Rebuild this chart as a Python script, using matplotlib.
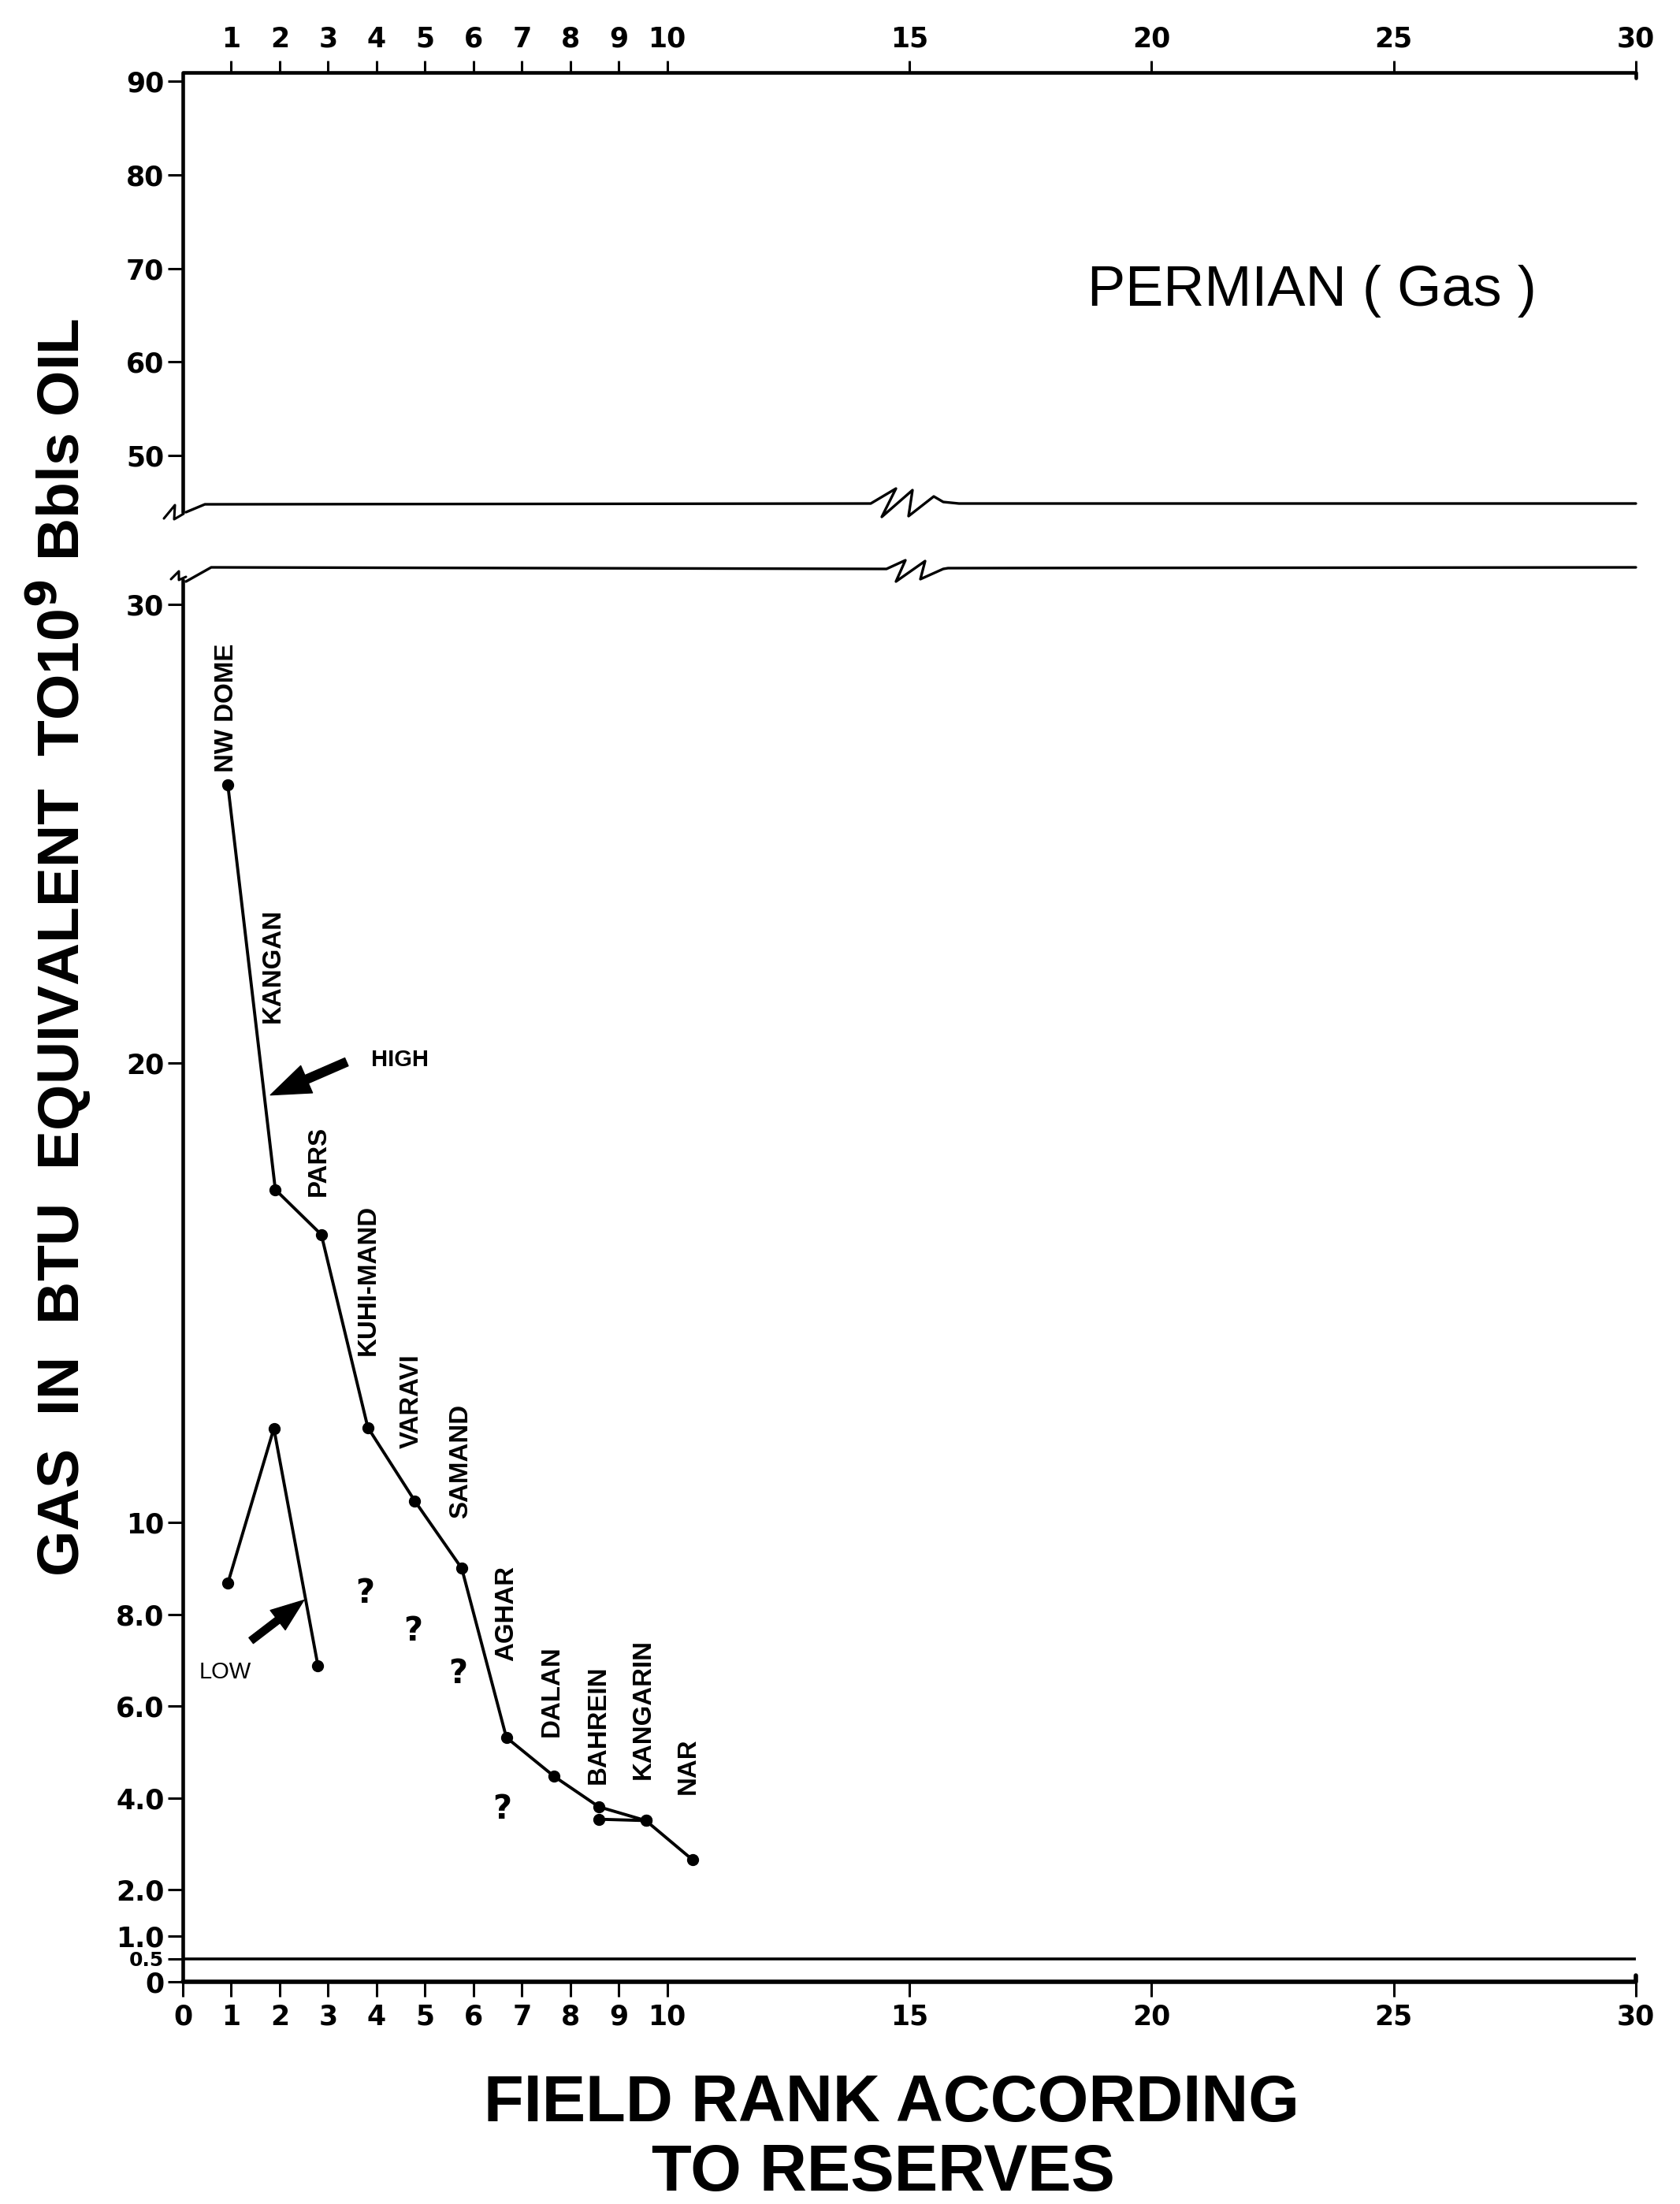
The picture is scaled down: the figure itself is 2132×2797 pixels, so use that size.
import matplotlib
matplotlib.use("Agg")
import matplotlib.pyplot as plt
from matplotlib import font_manager

# ---- data (rank, gas reserves in 10^9 bbl oil equiv.) ----
field_names = ["NW DOME", "KANGAN", "PARS", "KUHI-MAND", "VARAVI", "SAMAND",
               "AGHAR", "DALAN", "BAHREIN", "KANGARIN", "NAR"]
heavy_names = ["KANGARIN", "NAR"]
high_rank = [0.93, 1.91, 2.86, 3.82, 4.79, 5.76, 6.68, 7.67, 8.59, 9.56, 10.52]
high_gas = [26.06, 17.25, 16.27, 12.07, 10.47, 9.00, 5.32, 4.47, 3.81, 3.51, 2.66]
# second BAHREIN reading, joined to KANGARIN
spur_rank = [8.59, 9.56]
spur_gas = [3.54, 3.51]
low_rank = [0.93, 1.88, 2.79]
low_gas = [8.68, 12.05, 6.88]
query_rank = [3.77, 4.75, 5.69, 6.60]
query_gas = [8.46, 7.64, 6.71, 3.76]
floor_gas = 0.5

rank_ticks = [0, 1, 2, 3, 4, 5, 6, 7, 8, 9, 10, 15, 20, 25, 30]
upper_ticks = [50, 60, 70, 80, 90]
lower_ticks = [0, 0.5, 1, 2, 4, 6, 8, 10, 20, 30]
lower_tick_labels = ["0", "0.5", "1.0", "2.0", "4.0", "6.0", "8.0", "10", "20", "30"]

# label anchors (bottom of rotated text), in data units
label_x = [0.91, 1.86, 2.81, 3.82, 4.72, 5.74, 6.68, 7.61, 8.57, 9.50, 10.44]
label_y = [26.34, 20.89, 17.11, 13.64, 11.62, 10.09, 6.98, 5.33, 4.31, 4.41, 4.08]

# ---- layout (pixels of the 2132x2797 output, y from top) ----
W, H, DPI = 2132, 2797, 100
X0, X1 = 232, 2076
LO_TOP, LO_BOT, LO_YMAX = 720, 2515, 30.8
UP_TOP, UP_BOT, UP_YMIN, UP_YMAX = 92, 640, 44.8, 90.93

installed = {f.name for f in font_manager.fontManager.ttflist}
PLAIN = "Liberation Sans"
if "Liberation Sans Narrow" in installed:
    NARROW, squeeze = "Liberation Sans Narrow", 1.0
else:
    NARROW, squeeze = "Liberation Sans", 0.82


def frame(top, bottom):
    return [X0 / W, 1 - bottom / H, (X1 - X0) / W, (bottom - top) / H]


def ink(ax, pts, lw):
    xy = ax.transData.inverted().transform([(x, H - y) for x, y in pts])
    ax.plot(xy[:, 0], xy[:, 1], color="k", lw=lw, clip_on=False,
            solid_joinstyle="round", solid_capstyle="round")


fig = plt.figure(figsize=(W / DPI, H / DPI), dpi=DPI)
fig.patch.set_facecolor("white")

ax_up = fig.add_axes(frame(UP_TOP, UP_BOT))
ax_lo = fig.add_axes(frame(LO_TOP, LO_BOT))
for ax in (ax_up, ax_lo):
    ax.set_xlim(0, 30)
    for s in ax.spines.values():
        s.set_visible(False)
    ax.patch.set_visible(False)
ax_up.set_ylim(UP_YMIN, UP_YMAX)
ax_lo.set_ylim(0, LO_YMAX)

tick_font = dict(family="DejaVu Sans", weight="bold", size=25)

# upper panel frame with break marks
ink(ax_up, [(2076, 99), (2076, 92), (232, 92), (232, 650)], 3.3)
ink(ax_up, [(208, 658), (222, 641), (221, 659), (233, 652)], 2.2)
ink(ax_up, [(236, 650), (260, 640), (1105, 639), (1137, 620), (1119, 656),
            (1158, 622), (1153, 655), (1185, 630), (1197, 637), (1217, 639),
            (2076, 639)], 2.4)
# lower panel frame
ink(ax_lo, [(217, 735), (227, 725), (227, 736), (236, 732)], 2.2)
ink(ax_lo, [(236, 738), (268, 720), (1125, 722), (1149, 711), (1137, 738),
            (1174, 712), (1168, 735), (1197, 722), (1203, 721), (2076, 720)], 2.4)
ink(ax_lo, [(232, 736), (232, 2515)], 3.3)
ink(ax_lo, [(232, 2515), (2076, 2515), (2076, 2507)], 4.0)
ax_lo.axhline(floor_gas, color="k", lw=2.6)

# ticks
ax_up.set_yticks(upper_ticks)
ax_up.set_yticklabels([str(t) for t in upper_ticks], fontdict=tick_font)
ax_up.xaxis.set_ticks_position("top")
ax_up.set_xticks(rank_ticks[1:])
ax_up.set_xticklabels([str(t) for t in rank_ticks[1:]], fontdict=tick_font)
ax_up.tick_params(axis="x", top=True, labeltop=True, bottom=False,
                  labelbottom=False, length=11, width=2.2, pad=7)
ax_up.tick_params(axis="y", length=14, width=2.2, pad=3)

ax_lo.set_yticks(lower_ticks)
ax_lo.set_yticklabels(lower_tick_labels, fontdict=tick_font)
ax_lo.set_xticks(rank_ticks)
ax_lo.set_xticklabels([str(t) for t in rank_ticks], fontdict=tick_font)
ax_lo.tick_params(axis="x", length=14, width=2.2, pad=6)
ax_lo.tick_params(axis="y", length=14, width=2.2, pad=3)
for lab in ax_lo.get_yticklabels():
    if lab.get_text() == "0.5":
        lab.set_fontsize(18)

# data
ax_lo.plot(high_rank, high_gas, "-o", color="k", lw=2.8, ms=10, clip_on=False)
ax_lo.plot(spur_rank, spur_gas, "-o", color="k", lw=2.8, ms=10, clip_on=False)
ax_lo.plot(low_rank, low_gas, "-o", color="k", lw=2.8, ms=10, clip_on=False)
for x, y in zip(query_rank, query_gas):
    ax_lo.text(x, y, "?", ha="center", va="center", fontsize=30,
               fontweight="bold", family="DejaVu Sans")

for name, x, y in zip(field_names, label_x, label_y):
    ax_lo.text(x, y, name, rotation=90, ha="center", va="bottom",
               fontsize=29 * squeeze, fontweight="heavy" if name in heavy_names else "bold",
               family=NARROW)

arrow = dict(arrowstyle="simple,head_length=1.0,head_width=0.75,tail_width=0.22",
             color="k", shrinkA=0, shrinkB=0, mutation_scale=36)
ax_lo.annotate("", xy=(1.81, 19.31), xytext=(3.38, 20.03), arrowprops=arrow,
               annotation_clip=False)
ax_lo.text(3.89, 19.94, "HIGH", ha="left", va="baseline", fontsize=21,
           fontweight="bold", family=PLAIN)
arrow_low = dict(arrow, mutation_scale=30)
ax_lo.annotate("", xy=(2.50, 8.31), xytext=(1.41, 7.43), arrowprops=arrow_low,
               annotation_clip=False)
ax_lo.text(0.33, 6.61, "LOW", ha="left", va="baseline", fontsize=21, family=PLAIN)

# titles
fig.text(1665 / W, 1 - 388 / H, "PERMIAN ( Gas )", ha="center", va="baseline",
         fontsize=52, family=PLAIN)
fig.text(74 / W, 1 - 1202 / H, r"GAS  IN  BTU  EQUIVALENT  TO10$^{\mathbf{9}}$ Bbls OIL",
         rotation=90, ha="center", va="center", fontsize=54, fontweight="bold",
         family=PLAIN)
fig.text(1131 / W, 1 - 2692 / H, "FIELD RANK ACCORDING", ha="center", va="baseline",
         fontsize=73 * squeeze, fontweight="bold", family=NARROW)
fig.text(1121 / W, 1 - 2780 / H, "TO RESERVES", ha="center", va="baseline",
         fontsize=73 * squeeze, fontweight="bold", family=NARROW)

fig.savefig("out.png", dpi=DPI, facecolor="white")
